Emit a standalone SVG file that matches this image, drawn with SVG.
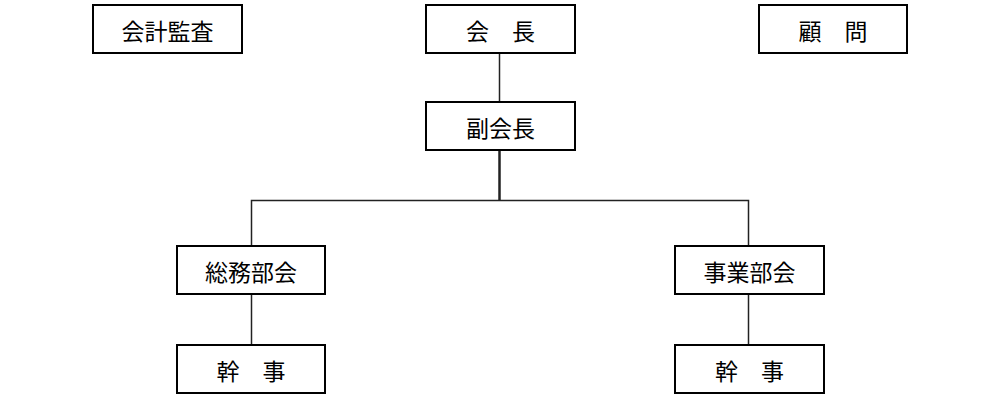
<svg xmlns="http://www.w3.org/2000/svg" width="1000" height="400" viewBox="0 0 1000 400">
<style>
.box{fill:#fff;stroke:#000;stroke-width:2}
.t{font-family:"Noto Sans CJK JP","Noto Sans CJK SC",sans-serif;font-size:23px;fill:#000;text-anchor:middle;dominant-baseline:central}
.c{stroke:#222;stroke-width:1.5;fill:none}
</style>
<rect width="1000" height="400" fill="#fff"/>
<g id="connectors">
<line class="c" x1="499.5" y1="53" x2="499.5" y2="102"/>
<line class="c" x1="499.5" y1="150" x2="499.5" y2="200" style="stroke-width:2.5"/>
<polyline class="c" points="251.5,246 251.5,200.5 748.5,200.5 748.5,246"/>
<line class="c" x1="251.5" y1="294" x2="251.5" y2="345"/>
<line class="c" x1="748.5" y1="294" x2="748.5" y2="345"/>
</g>
<g id="audit"><rect class="box" x="93" y="5" width="149" height="48"/><text class="t" x="167.5" y="30">会計監査</text></g>
<g id="president"><rect class="box" x="426" y="5" width="149" height="48"/><text class="t" x="500.5" y="30">会　長</text></g>
<g id="advisor"><rect class="box" x="759" y="5" width="148" height="48"/><text class="t" x="833" y="30">顧　問</text></g>
<g id="vice"><rect class="box" x="426" y="102" width="149" height="48"/><text class="t" x="500.5" y="127">副会長</text></g>
<g id="general"><rect class="box" x="177" y="246" width="148" height="48"/><text class="t" x="251" y="271">総務部会</text></g>
<g id="business"><rect class="box" x="675" y="246" width="149" height="48"/><text class="t" x="749.5" y="271">事業部会</text></g>
<g id="secretary1"><rect class="box" x="177" y="345" width="148" height="48"/><text class="t" x="251" y="370">幹　事</text></g>
<g id="secretary2"><rect class="box" x="675" y="345" width="149" height="48"/><text class="t" x="749.5" y="370">幹　事</text></g>
</svg>
